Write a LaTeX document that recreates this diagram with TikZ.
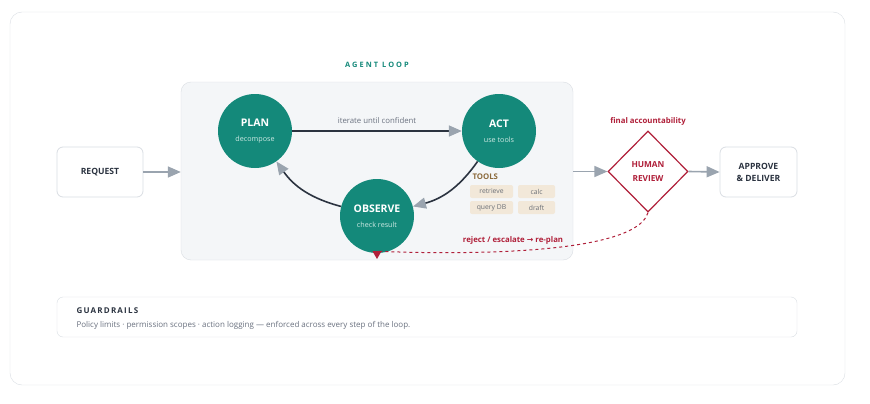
\documentclass[tikz,border=0pt]{standalone}
\usepackage{fontspec}
\setmainfont{Open Sans}
\newfontfamily\arrowfont{DejaVu Sans}
\usetikzlibrary{arrows.meta,shapes.geometric,positioning}

\definecolor{agentteal}{HTML}{14897A}
\definecolor{subteal}{HTML}{CDE9E3}
\definecolor{inkdark}{HTML}{2B3340}
\definecolor{tipgray}{HTML}{9AA4AF}
\definecolor{cardline}{HTML}{DADEE3}
\definecolor{panelfill}{HTML}{F4F6F8}
\definecolor{reviewred}{HTML}{B0203A}
\definecolor{toolbrown}{HTML}{8B6A3C}
\definecolor{chipfill}{HTML}{F2E8D9}
\definecolor{chiptext}{HTML}{6B6F76}
\definecolor{mutedtext}{HTML}{6B7280}

\begin{document}
\begin{tikzpicture}[x=1pt,y=-1pt,
    box/.style={draw=cardline,fill=white,rounded corners=6pt,line width=0.8pt,align=center,
        text=inkdark,font=\fontsize{8.6}{12}\selectfont\bfseries},
    stage/.style={circle,fill=agentteal,minimum size=74pt,inner sep=0pt,align=center,text=white,
        font=\fontsize{10.5}{15}\selectfont\bfseries},
    chip/.style={fill=chipfill,rounded corners=2pt,minimum height=13pt,inner sep=0pt,
        text=chiptext,font=\fontsize{6.8}{7}\selectfont},
    flow/.style={draw=tipgray,line width=1.6pt,-{Triangle[length=13pt,width=11pt]}},
    loopedge/.style={draw=inkdark,line width=1.6pt,-{Triangle[length=13pt,width=11pt,color=tipgray]}},
    small/.style={font=\fontsize{7.8}{8}\selectfont\bfseries}]
    \useasboundingbox (0,0) rectangle (870,404);
    \draw[cardline,fill=white,rounded corners=12pt] (10,12) rectangle (845,385);

    \node[draw=cardline,fill=panelfill,rounded corners=10pt,minimum width=392pt,minimum height=178pt]
        (loop) at (377,171) {};
    \node[text=agentteal,font=\fontsize{7.4}{8}\selectfont\bfseries\addfontfeature{LetterSpace=28}]
        (looptitle) at (377,65) {AGENT LOOP};

    \node[stage] (plan) at (255,131) {PLAN\\{\fontsize{7.2}{8}\selectfont\mdseries\color{subteal}decompose}};
    \node[stage] (act)  at (499,131) {ACT\\{\fontsize{7.2}{8}\selectfont\mdseries\color{subteal}use tools}};
    \node[stage] (obs)  at (377,216) {OBSERVE\\{\fontsize{7.2}{8}\selectfont\mdseries\color{subteal}check result}};

    \path[loopedge] (plan) edge node[above=3pt,text=mutedtext,font=\fontsize{7.8}{8}\selectfont] {iterate until confident} (act)
                    (act)  edge[bend left=20] (obs)
                    (obs)  edge[bend left=20] (plan);

    \node[text=toolbrown,font=\fontsize{7.8}{8}\selectfont\bfseries,anchor=west] (tools) at (469,177) {TOOLS};
    \node[chip,minimum width=43pt] (t1) at (491.5,191.5) {retrieve};
    \node[chip,minimum width=37pt] (t2) at (536.5,191.5) {calc};
    \node[chip,minimum width=43pt] (t3) at (491.5,207.5) {query DB};
    \node[chip,minimum width=37pt] (t4) at (536.5,207.5) {draft};

    \node[box,minimum width=86pt,minimum height=50pt] (req) at (100,172) {REQUEST};
    \node[diamond,draw=reviewred,line width=1.2pt,fill=white,minimum width=80pt,minimum height=81pt,
        inner sep=0pt,align=center,text=reviewred,font=\fontsize{8.3}{14}\selectfont\bfseries]
        (rev) at (648,171.5) {HUMAN\\REVIEW};
    \node[box,minimum width=77pt,minimum height=50pt] (ok) at (758.5,172) {APPROVE\\\& DELIVER};
    \node[small,text=reviewred] (acc) at (648,121) {final accountability};

    \draw[flow] (req.east) -- (req.east -| loop.west);
    \draw[flow] (loop.east |- rev.west) -- (rev.west);
    \draw[flow] (rev.east) -- (ok.west);

    \coordinate (replan) at (377,259);
    \draw[reviewred,dashed,line width=1pt,-{Triangle[length=8pt,width=9pt]}]
        (rev.south) .. controls +(-15,52) and +(0,-8) .. (replan);
    \node[small,text=reviewred] (rlabel) at (513,240) {reject / escalate {\arrowfont→} re-plan};

    \node[draw=cardline,fill=white,rounded corners=6pt,minimum width=740pt,minimum height=40pt]
        (guard) at (427,317) {};
    \node[anchor=west,text=inkdark,font=\fontsize{8}{9}\selectfont\bfseries\addfontfeature{LetterSpace=15}]
        (gtitle) at (73,311) {GUARDRAILS};
    \node[anchor=west,text=mutedtext,font=\fontsize{8}{9}\selectfont]
        (gtext) at (73,325) {Policy limits · permission scopes · action logging — enforced across every step of the loop.};
\end{tikzpicture}
\end{document}
